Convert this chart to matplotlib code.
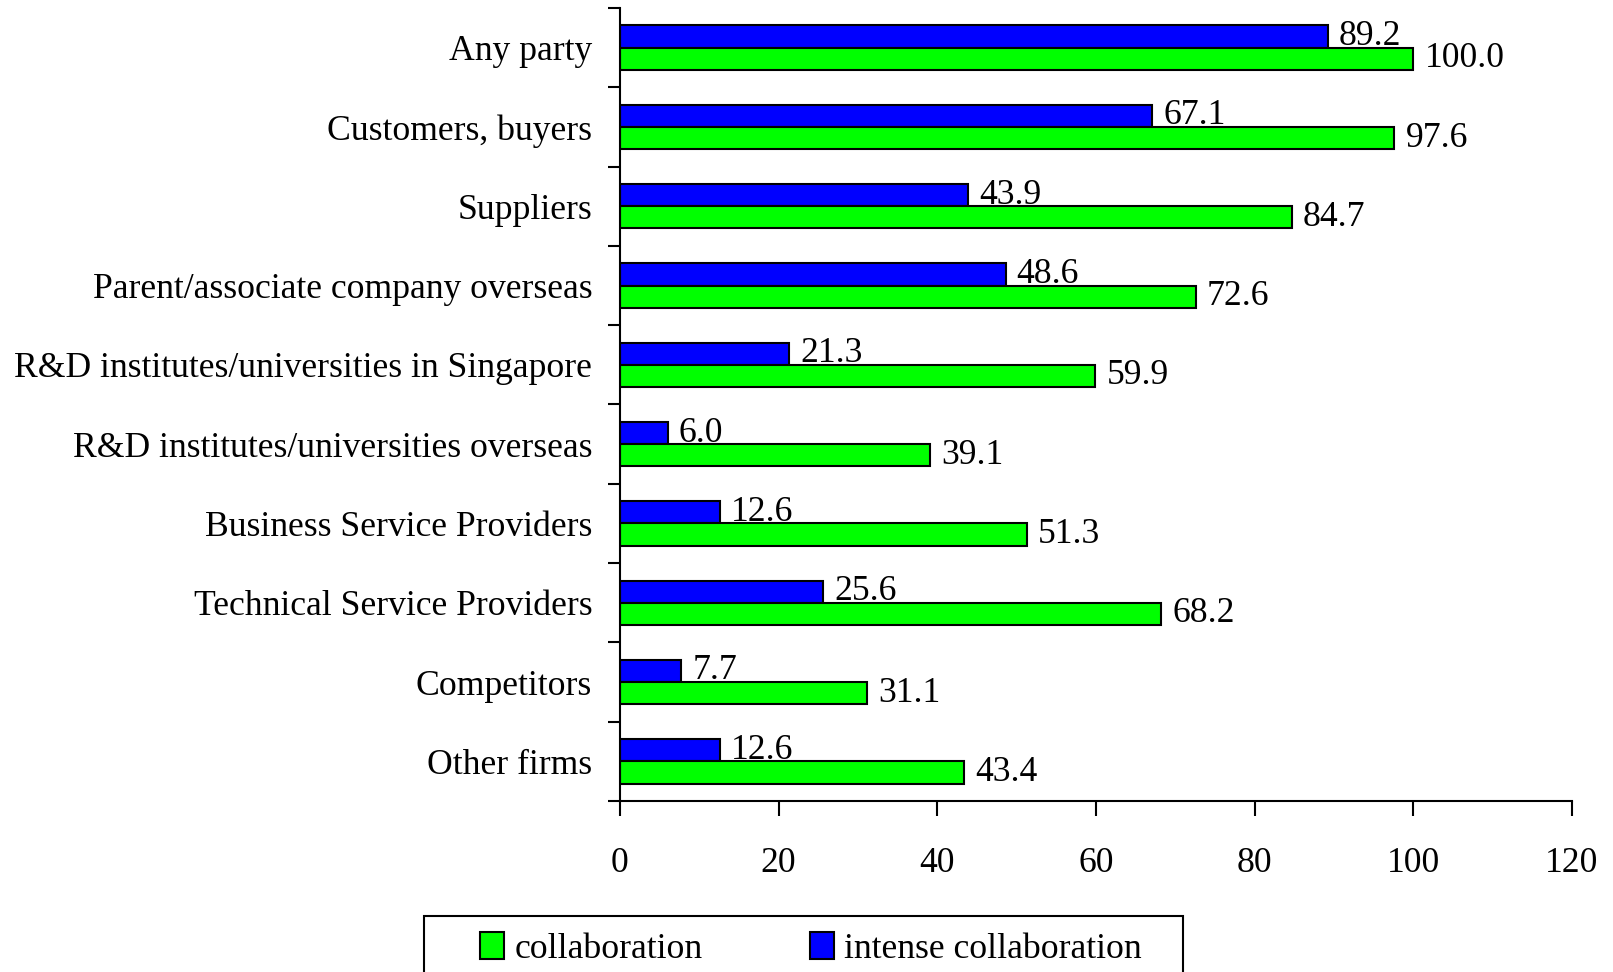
import matplotlib
matplotlib.use("Agg")
import matplotlib.pyplot as plt
from matplotlib.patches import Rectangle, Patch

plt.rcParams['font.family'] = ['Liberation Serif', 'DejaVu Serif']

categories = [
    "Any party",
    "Customers, buyers",
    "Suppliers",
    "Parent/associate company overseas",
    "R&D institutes/universities in Singapore",
    "R&D institutes/universities overseas",
    "Business Service Providers",
    "Technical Service Providers",
    "Competitors",
    "Other firms",
]
collaboration = [100.0, 97.6, 84.7, 72.6, 59.9, 39.1, 51.3, 68.2, 31.1, 43.4]
intense_collaboration = [89.2, 67.1, 43.9, 48.6, 21.3, 6.0, 12.6, 25.6, 7.7, 12.6]
x_ticks = [0, 20, 40, 60, 80, 100, 120]

GREEN = "#00FF00"
BLUE = "#0000FF"
FS = 25.7

fig = plt.figure(figsize=(16.13, 9.72), dpi=100)
ax = fig.add_axes([620 / 1613, 1 - 801 / 972, (1572 - 620) / 1613, (801 - 8) / 972])

n = len(categories)
pos = list(range(n))
h = 0.28
blue_y = [p - h / 2 for p in pos]
green_y = [p + h / 2 for p in pos]

ax.barh(blue_y, intense_collaboration, height=h, color=BLUE,
        edgecolor="black", linewidth=1.5)
ax.barh(green_y, collaboration, height=h, color=GREEN,
        edgecolor="black", linewidth=1.5)

for y, v in zip(blue_y, intense_collaboration):
    ax.annotate(f"{v:.1f}", (v, y), xytext=(8, 0), textcoords="offset points",
                ha="left", va="center", fontsize=FS)
for y, v in zip(green_y, collaboration):
    ax.annotate(f"{v:.1f}", (v, y), xytext=(8, 0), textcoords="offset points",
                ha="left", va="center", fontsize=FS)

ax.set_xlim(0, 120)
ax.set_ylim(n - 0.5, -0.5)
ax.set_xticks(x_ticks)
ax.set_xticklabels([str(t) for t in x_ticks], fontsize=FS)
ax.tick_params(axis="x", direction="out", length=10.8, width=1.5, pad=22)

# boundaries get the tick marks, centers get the labels
ax.set_yticks([i - 0.5 for i in range(n + 1)])
ax.set_yticklabels([])
ax.set_yticks(pos, minor=True)
ax.set_yticklabels(categories, minor=True, fontsize=FS)
ax.tick_params(axis="y", which="major", direction="out", length=8.6, width=1.5)
ax.tick_params(axis="y", which="minor", length=0, pad=20)

for side in ("top", "right"):
    ax.spines[side].set_visible(False)
for side in ("left", "bottom"):
    ax.spines[side].set_linewidth(1.5)

# legend frame and entries
fig.patches.append(Rectangle((424 / 1613, -0.05), (1183 - 424) / 1613,
                             1 - 916 / 972 + 0.05, transform=fig.transFigure,
                             facecolor="white", edgecolor="black", linewidth=1.5))
handles = [Patch(facecolor=GREEN, edgecolor="black", linewidth=1.5),
           Patch(facecolor=BLUE, edgecolor="black", linewidth=1.5)]
fig.legend(handles, ["collaboration", "intense collaboration"], ncol=2,
           loc="center left", bbox_to_anchor=(480 / 1613, 1 - 949 / 972),
           frameon=False, fontsize=FS, handlelength=0.67, handleheight=0.8,
           handletextpad=0.3, columnspacing=3.0, borderaxespad=0,
           borderpad=0)

fig.savefig("out.png", dpi=100)
